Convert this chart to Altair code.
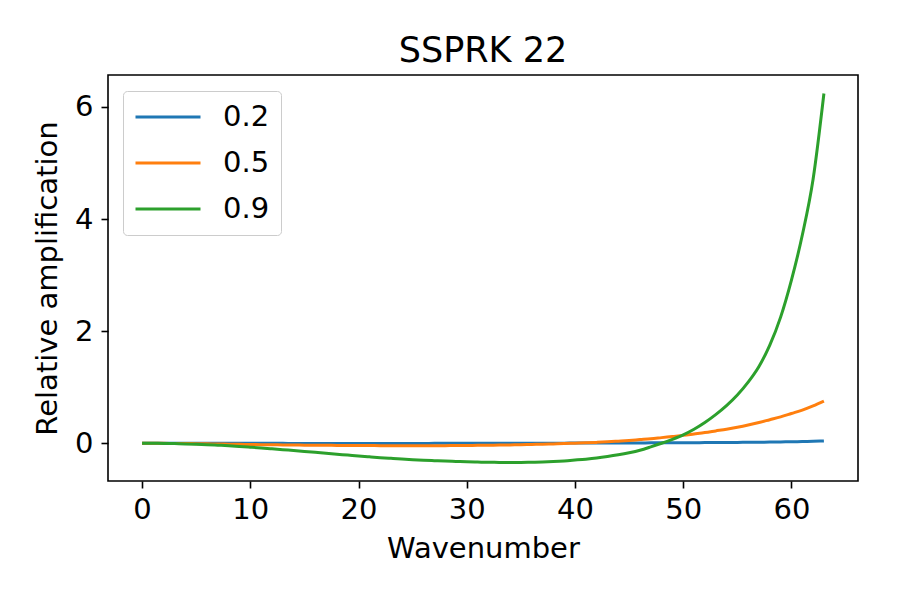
import altair as alt
import pandas as pd

wavenumber = list(range(64))

cfl_02 = [0.0, -0.0002, -0.0004, -0.0006, -0.0008, -0.001, -0.0012, -0.0014, -0.0016, -0.0018,
          -0.002, -0.0022, -0.0024, -0.0026, -0.0028, -0.003, -0.003, -0.003, -0.003, -0.003,
          -0.003, -0.003, -0.003, -0.003, -0.003, -0.003, -0.0028, -0.0026, -0.0024, -0.0022,
          -0.002, -0.0016, -0.0012, -0.0008, -0.0004, 0.0, 0.0004, 0.0008, 0.0012, 0.0016,
          0.002, 0.0026, 0.0032, 0.0038, 0.0044, 0.005, 0.0058, 0.0066, 0.0074, 0.0082,
          0.009, 0.010, 0.011, 0.0125, 0.0138, 0.015, 0.0167, 0.0183, 0.020, 0.023,
          0.026, 0.030, 0.034, 0.040]

cfl_05 = [0.0, -0.0005, -0.002, -0.004, -0.006, -0.008, -0.011, -0.014, -0.017, -0.020,
          -0.022, -0.025, -0.027, -0.030, -0.032, -0.034, -0.036, -0.037, -0.039, -0.040,
          -0.041, -0.042, -0.043, -0.043, -0.044, -0.044, -0.044, -0.043, -0.043, -0.042,
          -0.040, -0.038, -0.036, -0.033, -0.030, -0.026, -0.022, -0.017, -0.012, -0.006,
          0.0, 0.007, 0.015, 0.025, 0.037, 0.050, 0.065, 0.080, 0.100, 0.120,
          0.140, 0.165, 0.190, 0.220, 0.250, 0.285, 0.325, 0.370, 0.420, 0.470,
          0.530, 0.590, 0.665, 0.750]

cfl_09 = [0.0, -0.001, -0.003, -0.007, -0.012, -0.018, -0.026, -0.035, -0.045, -0.057,
          -0.070, -0.084, -0.099, -0.115, -0.131, -0.147, -0.163, -0.180, -0.196, -0.212,
          -0.228, -0.243, -0.257, -0.270, -0.282, -0.293, -0.302, -0.311, -0.319, -0.326,
          -0.332, -0.337, -0.340, -0.342, -0.343, -0.342, -0.339, -0.334, -0.326, -0.315,
          -0.300, -0.284, -0.264, -0.238, -0.207, -0.170, -0.125, -0.065, 0.000, 0.070,
          0.150, 0.250, 0.370, 0.510, 0.670, 0.860, 1.090, 1.370, 1.750, 2.250,
          2.910, 3.710, 4.710, 6.240]

series_names = ["0.2", "0.5", "0.9"]
series_colors = ["#1f77b4", "#ff7f0e", "#2ca02c"]
x_ticks = [0, 10, 20, 30, 40, 50, 60]
y_ticks = [0, 2, 4, 6]

rows = []
for name, vals in zip(series_names, [cfl_02, cfl_05, cfl_09]):
    for k, v in zip(wavenumber, vals):
        rows.append({"k": k, "amp": v, "cfl": name})
df = pd.DataFrame(rows)

FONT = "DejaVu Sans"

chart = alt.Chart(df).mark_line(strokeWidth=3, clip=True, interpolate="monotone").encode(
    x=alt.X("k:Q", title="Wavenumber",
            scale=alt.Scale(domain=[-3.15, 66.15], nice=False, zero=False),
            axis=alt.Axis(values=x_ticks, format="d", grid=False, domain=False,
                          tickSize=7, tickWidth=1.6, tickColor="black",
                          labelFontSize=29, labelFont=FONT, labelColor="black",
                          labelPadding=7, titleFontSize=29, titleFont=FONT,
                          titleFontWeight="normal", titleColor="black", titlePadding=10,
                          labelFlush=False)),
    y=alt.Y("amp:Q", title="Relative amplification",
            scale=alt.Scale(domain=[-0.674, 6.57], nice=False, zero=False),
            axis=alt.Axis(values=y_ticks, format="d", grid=False, domain=False,
                          tickSize=7, tickWidth=1.6, tickColor="black",
                          labelFontSize=29, labelFont=FONT, labelColor="black",
                          labelPadding=8, titleFontSize=29, titleFont=FONT,
                          titleFontWeight="normal", titleColor="black", titlePadding=12,
                          labelFlush=False)),
    color=alt.Color("cfl:N", title=None,
                    scale=alt.Scale(domain=series_names, range=series_colors),
                    legend=alt.Legend(orient="none", legendX=15, legendY=16,
                                      symbolType="stroke", symbolSize=4225,
                                      symbolStrokeWidth=3, clipHeight=30,
                                      rowPadding=16, padding=11, symbolOffset=0,
                                      labelOffset=21, labelFontSize=29, labelFont=FONT,
                                      labelColor="black", strokeColor="#cccccc",
                                      fillColor="white", cornerRadius=4)),
).properties(
    width=750,
    height=406,
    background="white",
    title=alt.TitleParams("SSPRK 22", fontSize=35, font=FONT, fontWeight="normal",
                          color="black", anchor="middle", offset=6),
    autosize=alt.AutoSizeParams(type="none"),
    padding={"left": 108, "top": 75, "right": 42, "bottom": 119},
).configure_view(
    stroke="black", strokeWidth=1.6
)

chart.save("out.html", embed_options={"renderer": "svg", "actions": False})
